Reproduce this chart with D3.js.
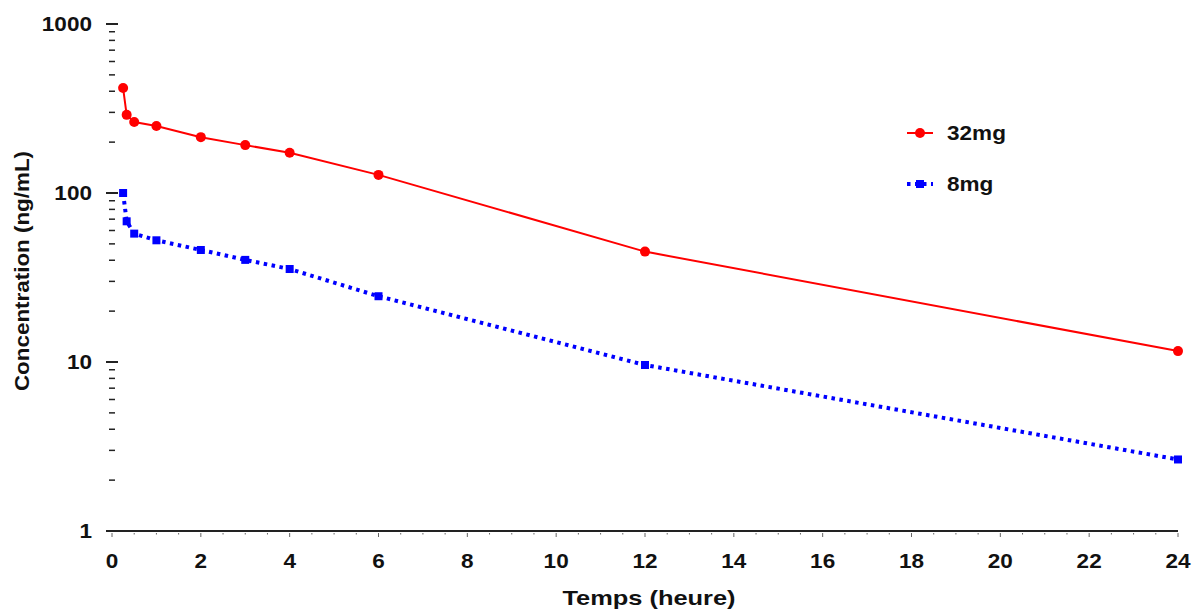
<!DOCTYPE html>
<html>
<head>
<meta charset="utf-8">
<script src="https://cdn.jsdelivr.net/npm/d3@7"></script>
<style>
  html, body { margin: 0; padding: 0; background: #fff; }
  svg { display: block; font-family: "Liberation Sans", Arial, sans-serif; }
</style>
</head>
<body>
<svg id="chart" width="1192" height="609"></svg>
<script>
const times = [0.25, 0.33, 0.5, 1, 2, 3, 4, 6, 12, 24];
const conc32 = [418, 290, 263, 249, 214, 192, 173, 128, 45, 11.6];
const conc8 = [100, 68, 57.5, 52.5, 46, 40.2, 35.5, 24.5, 9.6, 2.65];
const seriesNames = ["32mg", "8mg"];
const xTickValues = [0, 2, 4, 6, 8, 10, 12, 14, 16, 18, 20, 22, 24];
const yTickValues = [1, 10, 100, 1000];
const xTitle = "Temps (heure)";
const yTitle = "Concentration (ng/mL)";

const svg = d3.select("#chart");
const x = d3.scaleLinear().domain([0, 24]).range([112, 1178]);
const y = d3.scaleLog().domain([1, 1000]).range([531, 24]);

function widen(f) {
  return sel => sel.each(function () {
    const w = this.getComputedTextLength();
    d3.select(this).attr("textLength", w * f).attr("lengthAdjust", "spacingAndGlyphs");
  });
}

// Y ticks (no axis line, ticks centred on x=0)
const yMinor = [];
for (let d = 1; d < 1000; d *= 10) for (let k = 2; k <= 9; k++) yMinor.push(d * k);
const gy = svg.append("g");
gy.selectAll("line.minor").data(yMinor).join("line")
  .attr("x1", x(0) - 3).attr("x2", x(0) + 3)
  .attr("y1", d => y(d)).attr("y2", d => y(d))
  .attr("stroke", "#222").attr("stroke-width", 1.5);
gy.selectAll("line.major").data(yTickValues).join("line")
  .attr("x1", x(0) - 6).attr("x2", x(0) + 6)
  .attr("y1", d => y(d)).attr("y2", d => y(d))
  .attr("stroke", "#222").attr("stroke-width", 2);
gy.selectAll("text").data(yTickValues).join("text")
  .attr("x", 92).attr("y", d => y(d)).attr("dy", "0.36em")
  .attr("text-anchor", "end").attr("font-size", 20.5).attr("font-weight", "bold")
  .attr("fill", "#111").text(d => d3.format("d")(d)).call(widen(1.1));

// X axis
const gx = svg.append("g");
gx.append("line").attr("x1", x(0) - 6).attr("x2", x(24))
  .attr("y1", y(1)).attr("y2", y(1)).attr("stroke", "#222").attr("stroke-width", 2);
const xMinor = d3.range(0, 24.01, 0.5);
gx.selectAll("line.mt").data(xMinor).join("line")
  .attr("x1", d => x(d)).attr("x2", d => x(d))
  .attr("y1", y(1) + 2).attr("y2", d => (d % 2 === 0 ? y(1) + 6 : y(1) + 3.5))
  .attr("stroke", "#666").attr("stroke-width", 1);
gx.selectAll("text").data(xTickValues).join("text")
  .attr("x", d => x(d)).attr("y", 568)
  .attr("text-anchor", "middle").attr("font-size", 20.5).attr("font-weight", "bold")
  .attr("fill", "#111").text(d => d).call(widen(1.1));

// Titles
svg.append("text").attr("x", 649).attr("y", 605).attr("text-anchor", "middle")
  .attr("font-size", 21).attr("font-weight", "bold").attr("fill", "#111").text(xTitle).call(widen(1.21));
svg.append("text").attr("transform", "translate(29,271) rotate(-90)").attr("text-anchor", "middle")
  .attr("font-size", 20).attr("font-weight", "bold").attr("fill", "#111").text(yTitle).call(widen(1.12));

// Lines
const red = "#ff0000", blue = "#0000ff";
const line = d3.line().x(d => x(d[0])).y(d => y(d[1]));
const d32 = times.map((t, i) => [t, conc32[i]]);
const d8 = times.map((t, i) => [t, conc8[i]]);

svg.append("path").attr("d", line(d8)).attr("fill", "none").attr("stroke", blue)
  .attr("stroke-width", 4).attr("stroke-dasharray", "3.5,4.5");
svg.selectAll("rect.p8").data(d8).join("rect")
  .attr("x", d => x(d[0]) - 4).attr("y", d => y(d[1]) - 4)
  .attr("width", 8).attr("height", 8).attr("fill", blue);

svg.append("path").attr("d", line(d32)).attr("fill", "none").attr("stroke", red).attr("stroke-width", 2);
svg.selectAll("circle.p32").data(d32).join("circle")
  .attr("cx", d => x(d[0])).attr("cy", d => y(d[1])).attr("r", 5).attr("fill", red);

// Legend
const lg = svg.append("g");
lg.append("line").attr("x1", 907).attr("x2", 933).attr("y1", 133).attr("y2", 133)
  .attr("stroke", red).attr("stroke-width", 2);
lg.append("circle").attr("cx", 920).attr("cy", 133).attr("r", 5).attr("fill", red);
lg.append("text").attr("x", 947).attr("y", 133).attr("dy", "0.36em")
  .attr("font-size", 20.5).attr("font-weight", "bold").attr("fill", "#111").text(seriesNames[0]).call(widen(1.1));
lg.append("line").attr("x1", 907).attr("x2", 933).attr("y1", 184).attr("y2", 184)
  .attr("stroke", blue).attr("stroke-width", 4).attr("stroke-dasharray", "3.5,4.5");
lg.append("rect").attr("x", 916).attr("y", 180).attr("width", 8).attr("height", 8).attr("fill", blue);
lg.append("text").attr("x", 947).attr("y", 184).attr("dy", "0.36em")
  .attr("font-size", 20.5).attr("font-weight", "bold").attr("fill", "#111").text(seriesNames[1]).call(widen(1.1));
</script>
</body>
</html>
